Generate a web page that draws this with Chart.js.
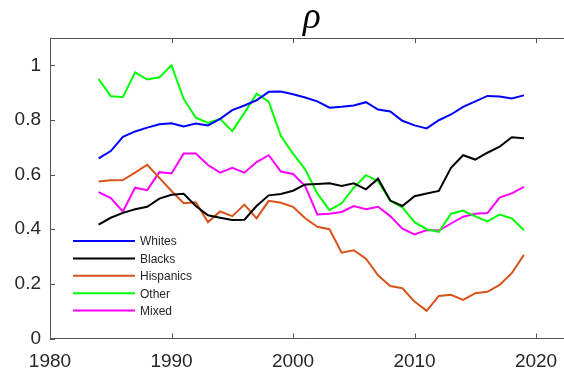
<!DOCTYPE html>
<html>
<head>
<meta charset="utf-8">
<script src="https://cdn.jsdelivr.net/npm/chart.js@4/dist/chart.umd.min.js"></script>
<style>
  body { margin: 0; background: #fff; }
  canvas { display: block; }
</style>
</head>
<body>
<canvas id="rho" width="564" height="375"></canvas>
<script>
const years = [1984, 1985, 1986, 1987, 1988, 1989, 1990, 1991, 1992, 1993, 1994, 1995,
  1996, 1997, 1998, 1999, 2000, 2001, 2002, 2003, 2004, 2005, 2006, 2007,
  2008, 2009, 2010, 2011, 2012, 2013, 2014, 2015, 2016, 2017, 2018, 2019];

const whites = [0.659, 0.686, 0.738, 0.758, 0.772, 0.784, 0.788, 0.776, 0.787, 0.780, 0.804, 0.836,
  0.853, 0.872, 0.903, 0.904, 0.894, 0.882, 0.868, 0.845, 0.848, 0.853, 0.865, 0.838,
  0.831, 0.797, 0.780, 0.769, 0.799, 0.820, 0.848, 0.868, 0.888, 0.886, 0.879, 0.890];

const blacks = [0.417, 0.442, 0.460, 0.473, 0.482, 0.512, 0.526, 0.530, 0.485, 0.451, 0.442, 0.434,
  0.435, 0.485, 0.524, 0.529, 0.541, 0.564, 0.566, 0.568, 0.558, 0.568, 0.546, 0.585,
  0.505, 0.485, 0.521, 0.531, 0.540, 0.625, 0.671, 0.655, 0.680, 0.702, 0.737, 0.733];

const hispanics = [0.575, 0.579, 0.580, 0.607, 0.636, 0.588, 0.540, 0.495, 0.499, 0.426, 0.465, 0.448,
  0.490, 0.440, 0.504, 0.497, 0.482, 0.440, 0.409, 0.400, 0.314, 0.323, 0.292, 0.231,
  0.192, 0.184, 0.135, 0.101, 0.156, 0.160, 0.141, 0.166, 0.171, 0.196, 0.239, 0.306];

const other = [0.950, 0.887, 0.884, 0.974, 0.948, 0.956, 1.000, 0.877, 0.808, 0.789, 0.804, 0.759,
  0.826, 0.896, 0.867, 0.741, 0.677, 0.619, 0.531, 0.470, 0.495, 0.552, 0.598, 0.576,
  0.504, 0.480, 0.426, 0.400, 0.390, 0.457, 0.468, 0.447, 0.429, 0.454, 0.440, 0.396];

const mixed = [0.536, 0.514, 0.465, 0.552, 0.543, 0.609, 0.604, 0.677, 0.677, 0.635, 0.607, 0.625,
  0.607, 0.646, 0.671, 0.611, 0.602, 0.558, 0.454, 0.457, 0.463, 0.485, 0.473, 0.482,
  0.448, 0.402, 0.381, 0.397, 0.395, 0.421, 0.446, 0.457, 0.459, 0.516, 0.531, 0.555];

const seriesNames = ['Whites', 'Blacks', 'Hispanics', 'Other', 'Mixed'];
const seriesColors = ['#0000ff', '#000000', '#d95319', '#00ff00', '#ff00ff'];
const xTicks = [1980, 1990, 2000, 2010, 2020];
const yTicks = [0, 0.2, 0.4, 0.6, 0.8, 1];

const AXIS_COLOR = '#555555';
const TEXT_COLOR = '#262626';

// matlab-ish decorations: box top, inward ticks, title and legend inside the axes
const matlabAxes = {
  id: 'matlabAxes',
  afterDraw(chart) {
    const ctx = chart.ctx;
    const area = chart.chartArea;
    const xs = chart.scales.x;
    const ys = chart.scales.y;
    ctx.save();
    ctx.strokeStyle = AXIS_COLOR;
    ctx.lineWidth = 1;
    ctx.beginPath();
    ctx.moveTo(area.left, area.top + 0.5);
    ctx.lineTo(564, area.top + 0.5);
    xTicks.forEach(function(t) {
      const px = Math.round(xs.getPixelForValue(t)) + 0.5;
      ctx.moveTo(px, area.bottom);
      ctx.lineTo(px, area.bottom - 5);
      ctx.moveTo(px, area.top);
      ctx.lineTo(px, area.top + 5);
    });
    yTicks.forEach(function(t) {
      const py = Math.round(ys.getPixelForValue(t)) + 0.5;
      ctx.moveTo(area.left, py);
      ctx.lineTo(area.left + 5, py);
    });
    ctx.stroke();

    // title
    ctx.fillStyle = '#000';
    ctx.font = 'italic 37px "Liberation Serif"';
    ctx.textAlign = 'center';
    ctx.textBaseline = 'alphabetic';
    ctx.fillText('\u03c1', 312, 28);

    // legend
    ctx.font = '12px "Liberation Sans"';
    ctx.textAlign = 'left';
    ctx.textBaseline = 'middle';
    chart.data.datasets.forEach(function(ds, i) {
      const y = 241 + i * 17.4;
      ctx.strokeStyle = ds.borderColor;
      ctx.lineWidth = 2;
      ctx.beginPath();
      ctx.moveTo(73, y);
      ctx.lineTo(135, y);
      ctx.stroke();
      ctx.fillStyle = TEXT_COLOR;
      ctx.fillText(ds.label, 140, y + 1);
    });
    ctx.restore();
  }
};

const allSeries = [whites, blacks, hispanics, other, mixed];

const chart = new Chart(document.getElementById('rho'), {
  type: 'line',
  data: {
    datasets: allSeries.map(function(vals, i) {
      return {
        label: seriesNames[i],
        data: vals.map((v, j) => ({ x: years[j], y: v })),
        borderColor: seriesColors[i],
        backgroundColor: seriesColors[i],
        borderWidth: 2,
        pointRadius: 0,
        tension: 0,
        fill: false
      };
    })
  },
  options: {
    responsive: false,
    animation: false,
    layout: { padding: { top: 38, right: 0, left: 0, bottom: 0 } },
    plugins: {
      legend: { display: false },
      title: { display: false },
      tooltip: { enabled: false }
    },
    scales: {
      x: {
        type: 'linear',
        min: 1980,
        max: 2022.3,
        afterBuildTicks: s => { s.ticks = xTicks.map(v => ({ value: v })); },
        afterFit: s => { s.height = 36.5; s.paddingRight = 0; },
        grid: { drawOnChartArea: false, drawTicks: false },
        border: { display: true, color: AXIS_COLOR, width: 1 },
        ticks: {
          padding: 12,
          color: TEXT_COLOR,
          font: { family: 'Liberation Sans', size: 19 },
          maxRotation: 0,
          callback: v => String(v)
        }
      },
      y: {
        min: 0,
        max: 1.1,
        afterBuildTicks: s => { s.ticks = yTicks.map(v => ({ value: v })); },
        afterFit: s => { s.width = 50; },
        grid: { drawOnChartArea: false, drawTicks: false },
        border: { display: true, color: AXIS_COLOR, width: 1 },
        ticks: {
          padding: 9,
          color: TEXT_COLOR,
          font: { family: 'Liberation Sans', size: 19 },
          callback: v => String(Math.round(v * 10) / 10)
        }
      }
    }
  },
  plugins: [matlabAxes]
});
</script>
</body>
</html>
